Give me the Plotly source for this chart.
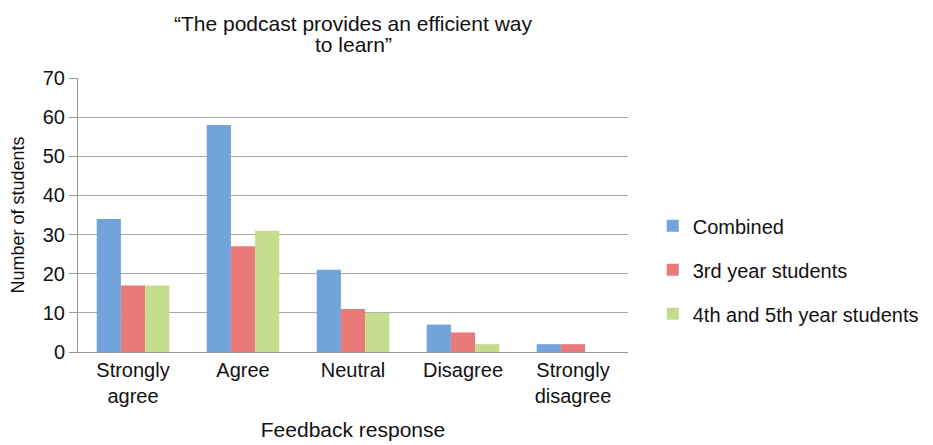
import plotly.graph_objects as go

categories = ["Strongly<br>agree", "Agree", "Neutral", "Disagree", "Strongly<br>disagree"]
combined = [34, 58, 21, 7, 2]
third_year = [17, 27, 11, 5, 2]
fourth_fifth_year = [17, 31, 10, 2, 0]
series_names = ["Combined", "3rd year students", "4th and 5th year students"]
colors = ["#72a3da", "#e87a7a", "#c4dc8c"]
title_lines = ["\u201cThe podcast provides an efficient way", "to learn\u201d"]

fig = go.Figure()
for i, (name, vals) in enumerate(zip(series_names, [combined, third_year, fourth_fifth_year])):
    fig.add_trace(go.Bar(
        x=categories, y=vals, name=name, legendgroup=name,
        marker=dict(color=colors[i], line=dict(width=0)),
    ))

font_family = "Liberation Sans, Arial, sans-serif"
title_annots = [
    dict(text=t, x=0.5, xref="paper", y=yy, yref="paper",
         xanchor="center", yanchor="middle", showarrow=False,
         font=dict(size=21), borderpad=0)
    for t, yy in zip(title_lines, [1.198, 1.124])
]
fig.update_layout(
    width=933, height=445,
    margin=dict(l=70, r=313, t=70, b=101, autoexpand=False),
    paper_bgcolor="white", plot_bgcolor="white",
    barmode="group", bargap=0.34, bargroupgap=0,
    font=dict(family=font_family, size=20, color="#111"),
    legend=dict(x=1.045, y=0.30, xanchor="left", yanchor="middle",
                tracegroupgap=15, font=dict(size=20), itemwidth=30,
                bgcolor="rgba(0,0,0,0)"),
    xaxis=dict(showline=True, linecolor="#999", linewidth=1, ticks="",
               tickfont=dict(size=20), automargin=False,
               title=dict(text="Feedback response", font=dict(size=21), standoff=16)),
    yaxis=dict(range=[0, 70], dtick=10, showline=True, linecolor="#999", linewidth=1,
               ticks="outside", ticklen=8, tickcolor="#999",
               gridcolor="#a8a8a8", gridwidth=1, zeroline=False,
               tickfont=dict(size=20), automargin=False,
               title=dict(text="Number of students", font=dict(size=18), standoff=14)),
    annotations=title_annots,
)

fig.write_html("out.html")
